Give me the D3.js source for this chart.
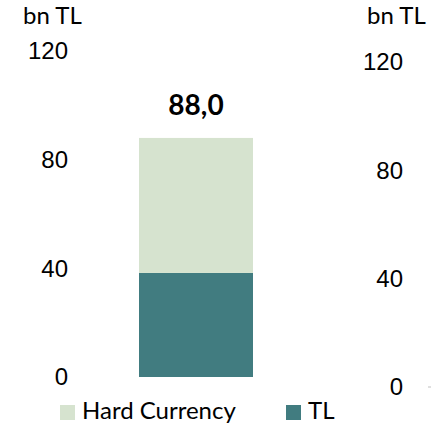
<!DOCTYPE html>
<html>
<head>
<meta charset="utf-8">
<script src="https://cdn.jsdelivr.net/npm/d3@7"></script>
<style>
  html, body { margin: 0; padding: 0; background: #fff; }
  svg { display: block; font-family: Lato, "Open Sans", sans-serif; }
</style>
</head>
<body>
<svg id="chart" width="431" height="430"></svg>
<script>
// Data
const categories = ["Total"];
const seriesNames = ["TL", "Hard Currency"];
const tlValues = [38.3];
const hardCurrencyValues = [49.7];
const totalLabels = ["88,0"];
const leftTicks = [0, 40, 80, 120];
const rightTicks = [0, 40, 80, 120];
const unitLabel = "bn TL";

const colors = { "TL": "#417c80", "Hard Currency": "#d6e3cf" };

const svg = d3.select("#chart");
const fontSize = 24;

const yLeft = d3.scaleLinear().domain([0, 120]).range([377, 51]);
const yRight = d3.scaleLinear().domain([0, 120]).range([387, 62]);
const x = d3.scaleBand().domain(categories).range([82, 310]).paddingInner(0).paddingOuter(0.5);

// Left axis (labels only)
const leftAxis = d3.axisLeft(yLeft).tickValues(leftTicks).tickSize(0).tickPadding(0).tickFormat(d3.format("d"));
const gL = svg.append("g").attr("transform", "translate(68,0)").call(leftAxis);
gL.select(".domain").remove();
gL.selectAll("text").attr("font-size", fontSize).attr("fill", "#000").attr("font-family", null);

// Right axis (labels only)
const rightAxis = d3.axisLeft(yRight).tickValues(rightTicks).tickSize(0).tickPadding(0).tickFormat(d3.format("d"));
const gR = svg.append("g").attr("transform", "translate(403,0)").call(rightAxis);
gR.select(".domain").remove();
gR.selectAll("text").attr("font-size", fontSize).attr("fill", "#000").attr("font-family", null);

// small axis stub at right baseline
svg.append("line")
  .attr("x1", 428).attr("x2", 431)
  .attr("y1", yRight(0)).attr("y2", yRight(0))
  .attr("stroke", "#bfbfbf").attr("stroke-width", 1);

// Unit labels
svg.append("text").attr("x", 23).attr("y", 24).attr("font-size", fontSize).text(unitLabel);
svg.append("text").attr("x", 367).attr("y", 24).attr("font-size", fontSize).text(unitLabel);

// Stacked bar
const rows = categories.map((c, i) => ({ cat: c, "TL": tlValues[i], "Hard Currency": hardCurrencyValues[i] }));
const stack = d3.stack().keys(seriesNames)(rows);

svg.append("g").selectAll("g")
  .data(stack).join("g")
  .attr("fill", d => colors[d.key])
  .selectAll("rect")
  .data(d => d).join("rect")
  .attr("x", d => x(d.data.cat))
  .attr("width", x.bandwidth())
  .attr("y", d => yLeft(d[1]))
  .attr("height", d => yLeft(d[0]) - yLeft(d[1]));

// Total labels
svg.append("g").selectAll("text")
  .data(rows).join("text")
  .attr("x", d => x(d.cat) + x.bandwidth() / 2)
  .attr("y", (d, i) => yLeft(tlValues[i] + hardCurrencyValues[i]) - 23)
  .attr("text-anchor", "middle")
  .attr("font-size", 28)
  .attr("font-weight", "bold")
  .text((d, i) => totalLabels[i]);

// Legend
const legendItems = [
  { name: "Hard Currency", x: 60 },
  { name: "TL", x: 286 }
];
const lg = svg.append("g").selectAll("g").data(legendItems).join("g")
  .attr("transform", d => `translate(${d.x},405)`);
lg.append("rect").attr("width", 15).attr("height", 15).attr("fill", d => colors[d.name]);
lg.append("text").attr("x", 22).attr("y", 13.5).attr("font-size", fontSize).text(d => d.name);
</script>
</body>
</html>
